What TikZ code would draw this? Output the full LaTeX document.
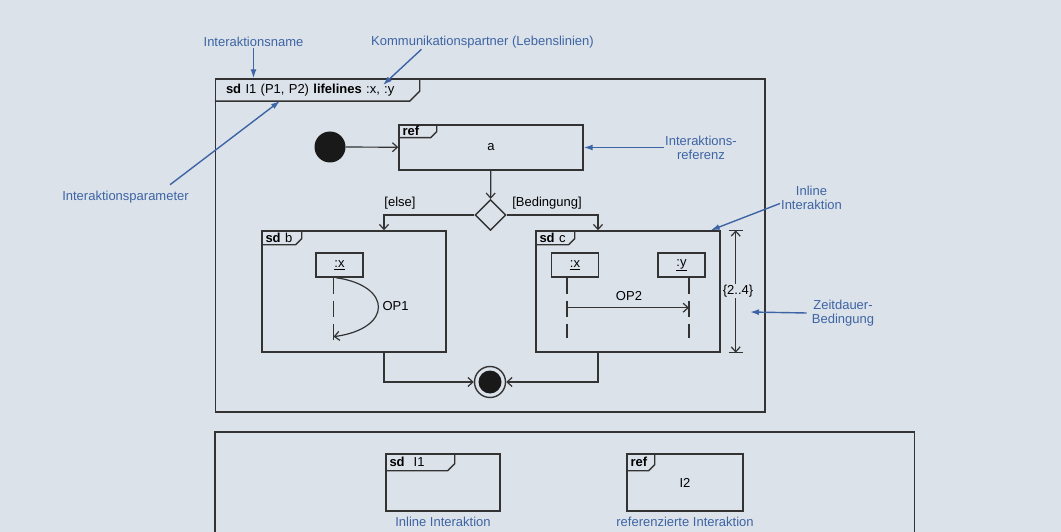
\documentclass[tikz,border=0pt]{standalone}
\usepackage{fontspec}
\setmainfont{Liberation Sans}
\usepackage{xcolor}
\definecolor{paperGray}{HTML}{DCE2EA}
\definecolor{noteBlue}{HTML}{3D64A4}
\definecolor{lineGray}{HTML}{333333}
\usetikzlibrary{positioning,arrows.meta,shapes.geometric}
\tikzset{%
  frameBox/.style={rectangle, draw=lineGray, line width=1.4pt, inner sep=0pt},
  frameTab/.style n args={3}{anchor=north west, text width=#1, text height=#2,
    text depth=#3, inner xsep=4pt, inner ysep=1pt, align=left},
  tabLine/.style={draw=lineGray, line width=1.4pt},
  lifeHead/.style={frameBox, minimum width=47, minimum height=24},
  lifeLine/.style={lineGray, line width=1.2pt, dash pattern=on 16pt off 7pt},
  flowArrow/.style={-{Straight Barb[length=5pt,width=9pt]}, line width=1.2pt, lineGray},
  bothArrow/.style={{Straight Barb[length=5pt,width=9pt]}-{Straight Barb[length=5pt,width=9pt]},
    line width=1.2pt, lineGray},
  noteLabel/.style={text=noteBlue, align=center, inner sep=1pt},
  noteArrow/.style={-{Latex[length=9pt,width=6pt]}, line width=1.4pt, noteBlue},
  startDot/.style={circle, fill=black!90, inner sep=0pt, minimum size=31},
  endRing/.style={circle, draw=lineGray, line width=1.4pt, inner sep=0pt, minimum size=31},
  decision/.style={diamond, draw=lineGray, line width=1.4pt, inner sep=0pt, minimum size=31},
}

\begin{document}
\begin{tikzpicture}[x=1pt, y=-1pt, font=\fontsize{13}{14}\selectfont]
  \useasboundingbox (0,0) rectangle (1061,532);
  \fill[paperGray] (0,0) rectangle (1061,532);

  % main frame sd I1
  \node[frameBox, minimum width=549.5, minimum height=333] (sdI1) at (490.25,245.5) {};
  \node[frameTab={182.5pt}{14.5pt}{6pt}, inner xsep=11pt] (tabMain) at (sdI1.north west)
    {\textbf{sd} I1 (P1, P2) \textbf{lifelines} :x, :y};
  \draw[tabLine] (tabMain.south west) -- ([xshift=-10]tabMain.south east)
    -- ([yshift=10]tabMain.south east) -- (tabMain.north east);

  % activity flow
  \node[startDot] (start) at (330,147) {};
  \node[frameBox, minimum width=184, minimum height=45] (refA) at (491,147.5) {a};
  \node[frameTab={30pt}{10pt}{1pt}] (tabRefA) at (refA.north west) {\textbf{ref}};
  \draw[tabLine] (tabRefA.south west) -- ([xshift=-6]tabRefA.south east)
    -- ([yshift=6]tabRefA.south east) -- (tabRefA.north east);
  \node[decision] (dec) at (490.5,215) {};
  \node (elseLbl) at (400,203) {[else]};
  \node (condLbl) at (547,203) {[Bedingung]};

  % sd b
  \node[frameBox, minimum width=184, minimum height=121] (sdB) at (354,291.5) {};
  \node[frameTab={32pt}{11pt}{1pt}] (tabB) at (sdB.north west) {\textbf{sd} b};
  \draw[tabLine] (tabB.south west) -- ([xshift=-6]tabB.south east)
    -- ([yshift=6]tabB.south east) -- (tabB.north east);
  \node[lifeHead] (bX) at (339.5,265) {\underline{:x}};
  \draw[lifeLine] ([xshift=-6]bX.south) -- ++(0,68);
  \draw[flowArrow] ([xshift=-3.5]bX.south) .. controls +(56.5,8) and +(59.5,-8)
    .. ([xshift=-6,yshift=-59]bX.south);
  \node[anchor=west] (op1) at (379,306) {OP1};

  % sd c
  \node[frameBox, minimum width=184, minimum height=121] (sdC) at (628,291.5) {};
  \node[frameTab={31pt}{11pt}{1pt}] (tabC) at (sdC.north west) {\textbf{sd} c};
  \draw[tabLine] (tabC.south west) -- ([xshift=-6]tabC.south east)
    -- ([yshift=6]tabC.south east) -- (tabC.north east);
  \node[lifeHead] (cX) at (575,265) {\underline{:x}};
  \node[lifeHead] (cY) at (681.5,265) {\underline{:y}};
  \draw[lifeLine] ([xshift=-8]cX.south) -- ++(0,60);
  \draw[lifeLine] ([xshift=7.5]cY.south) -- ++(0,60);
  \draw[flowArrow] ([xshift=-8,yshift=-30]cX.south) -- ([xshift=7.5,yshift=-30]cY.south);
  \node (op2) at (629,296) {OP2};

  % duration constraint
  \coordinate (durTop) at ([xshift=15]sdC.north east);
  \coordinate (durBot) at ([xshift=15]sdC.south east);
  \draw[bothArrow] (durTop) -- (durBot);
  \draw[tabLine] ([xshift=-7]durTop) -- ([xshift=7]durTop);
  \draw[tabLine] ([xshift=-7]durBot) -- ([xshift=7]durBot);
  \node[fill=paperGray, inner sep=1pt] (durLbl) at (738,291) {\{2..4\}};

  % final node
  \node[endRing] (final) at (490,382) {};
  \node[startDot, minimum size=23] (finalDot) at (final) {};

  \draw[flowArrow] (start) -- (refA);
  \draw[flowArrow] (refA) -- (dec);
  \draw[flowArrow] (dec.west) -| ([xshift=30]sdB.north);
  \draw[flowArrow] (dec.east) -| ([xshift=-30]sdC.north);
  \draw[flowArrow] ([xshift=30]sdB.south) |- (final);
  \draw[flowArrow] ([xshift=-30]sdC.south) |- (final);

  % annotations
  \node[noteLabel] (annName) at (253.5,42) {Interaktionsname};
  \node[noteLabel] (annPartner) at (482.5,42) {Kommunikationspartner (Lebenslinien)};
  \node[noteLabel] (annParam) at (125.5,197) {Interaktionsparameter};
  \node[noteLabel] (annRef) at (701,147.5) {Interaktions-\\referenz};
  \node[noteLabel] (annInline) at (811.5,197.5) {Inline\\Interaktion};
  \node[noteLabel] (annTime) at (843,313) {Zeitdauer-\\Bedingung};
  \coordinate (tgtLifelines) at (383,85);
  \coordinate (tgtParams) at (280,101);
  \coordinate (tgtTime) at (750,312);
  \draw[noteArrow] (annName.south) -- (annName.south |- sdI1.north);
  \draw[noteArrow] ([xshift=-61]annPartner.south) -- (tgtLifelines);
  \draw[noteArrow] ([xshift=44.5,yshift=5]annParam.north) -- (tgtParams);
  \draw[noteArrow] (annRef.west) -- (refA.east);
  \draw[noteArrow] ([yshift=-6]annInline.west) -- ([xshift=-10]sdC.north east);
  \draw[noteArrow] ([xshift=-4]annTime.west) -- (tgtTime);

  % legend
  \draw[tabLine] (215,540) |- (914.5,432) -- (914.5,540);
  \node[frameBox, minimum width=114, minimum height=57] (legSd) at (443,482.5) {};
  \node[frameTab={61pt}{12pt}{3pt}] (tabLegSd) at (legSd.north west) {\textbf{sd}\hspace{9pt}I1};
  \draw[tabLine] (tabLegSd.south west) -- ([xshift=-7]tabLegSd.south east)
    -- ([yshift=7]tabLegSd.south east) -- (tabLegSd.north east);
  \node[frameBox, minimum width=116, minimum height=57] (legRef) at (685,482.5) {I2};
  \node[frameTab={20pt}{12pt}{3pt}] (tabLegRef) at (legRef.north west) {\textbf{ref}};
  \draw[tabLine] (tabLegRef.south west) -- ([xshift=-6]tabLegRef.south east)
    -- ([yshift=6]tabLegRef.south east) -- (tabLegRef.north east);
  \node[noteLabel, below=4pt of legSd] (legSdLbl) {Inline Interaktion};
  \node[noteLabel, below=4pt of legRef] (legRefLbl) {referenzierte Interaktion};
\end{tikzpicture}
\end{document}
